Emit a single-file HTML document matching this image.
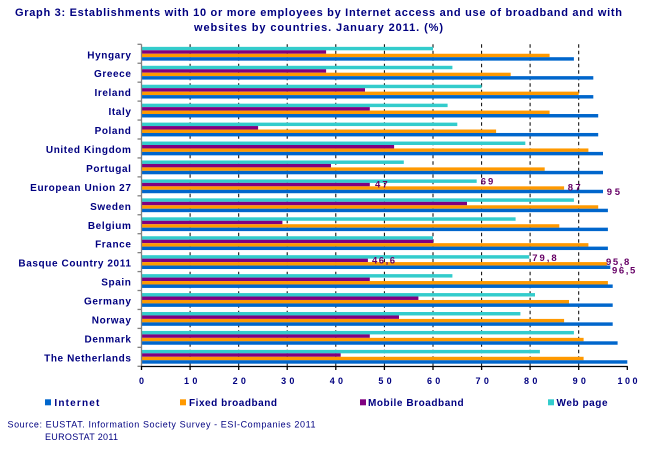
<!DOCTYPE html>
<html><head><meta charset="utf-8"><style>
html,body{margin:0;padding:0;background:#fff;}
svg{display:block;font-family:"Liberation Sans",Arial,sans-serif;}
</style></head><body>
<svg width="653" height="451" viewBox="0 0 653 451" xmlns="http://www.w3.org/2000/svg">
<rect width="653" height="451" fill="#fff"/>
<!-- title -->
<g fill="#000080" font-weight="bold" font-size="11">
<text x="15" y="16" textLength="607">Graph 3: Establishments with 10 or more employees by Internet access and use of broadband and with</text>
<text x="194" y="31" textLength="249">websites by countries. January 2011. (%)</text>
</g>
<!-- gridlines -->
<g stroke="#000" stroke-width="1" stroke-dasharray="3.5 3">
<line x1="190.1" y1="44.3" x2="190.1" y2="366" />
<line x1="238.7" y1="44.3" x2="238.7" y2="366" />
<line x1="287.2" y1="44.3" x2="287.2" y2="366" />
<line x1="335.8" y1="44.3" x2="335.8" y2="366" />
<line x1="384.4" y1="44.3" x2="384.4" y2="366" />
<line x1="433" y1="44.3" x2="433" y2="366" />
<line x1="481.6" y1="44.3" x2="481.6" y2="366" />
<line x1="530.1" y1="44.3" x2="530.1" y2="366" />
<line x1="578.7" y1="44.3" x2="578.7" y2="366" />
</g>
<!-- bars -->
<g>
<g transform="translate(141.5,44.3)"><rect y="2.55" height="3.45" width="291.5" fill="#33CCCC"/><rect y="6" height="3.45" width="184.6" fill="#800080"/><rect y="9.45" height="3.45" width="408.1" fill="#FF9900"/><rect y="12.9" height="3.45" width="432.4" fill="#0066CC"/></g>
<g transform="translate(141.5,63.24)"><rect y="2.55" height="3.45" width="310.9" fill="#33CCCC"/><rect y="6" height="3.45" width="184.6" fill="#800080"/><rect y="9.45" height="3.45" width="369.2" fill="#FF9900"/><rect y="12.9" height="3.45" width="451.8" fill="#0066CC"/></g>
<g transform="translate(141.5,82.18)"><rect y="2.55" height="3.45" width="340.1" fill="#33CCCC"/><rect y="6" height="3.45" width="223.5" fill="#800080"/><rect y="9.45" height="3.45" width="437.2" fill="#FF9900"/><rect y="12.9" height="3.45" width="451.8" fill="#0066CC"/></g>
<g transform="translate(141.5,101.12)"><rect y="2.55" height="3.45" width="306.1" fill="#33CCCC"/><rect y="6" height="3.45" width="228.3" fill="#800080"/><rect y="9.45" height="3.45" width="408.1" fill="#FF9900"/><rect y="12.9" height="3.45" width="456.7" fill="#0066CC"/></g>
<g transform="translate(141.5,120.06)"><rect y="2.55" height="3.45" width="315.8" fill="#33CCCC"/><rect y="6" height="3.45" width="116.6" fill="#800080"/><rect y="9.45" height="3.45" width="354.6" fill="#FF9900"/><rect y="12.9" height="3.45" width="456.7" fill="#0066CC"/></g>
<g transform="translate(141.5,139)"><rect y="2.55" height="3.45" width="383.8" fill="#33CCCC"/><rect y="6" height="3.45" width="252.6" fill="#800080"/><rect y="9.45" height="3.45" width="446.9" fill="#FF9900"/><rect y="12.9" height="3.45" width="461.5" fill="#0066CC"/></g>
<g transform="translate(141.5,157.94)"><rect y="2.55" height="3.45" width="262.3" fill="#33CCCC"/><rect y="6" height="3.45" width="189.5" fill="#800080"/><rect y="9.45" height="3.45" width="403.2" fill="#FF9900"/><rect y="12.9" height="3.45" width="461.5" fill="#0066CC"/></g>
<g transform="translate(141.5,176.88)"><rect y="2.55" height="3.45" width="335.2" fill="#33CCCC"/><rect y="6" height="3.45" width="228.3" fill="#800080"/><rect y="9.45" height="3.45" width="422.6" fill="#FF9900"/><rect y="12.9" height="3.45" width="461.5" fill="#0066CC"/></g>
<g transform="translate(141.5,195.82)"><rect y="2.55" height="3.45" width="432.4" fill="#33CCCC"/><rect y="6" height="3.45" width="325.5" fill="#800080"/><rect y="9.45" height="3.45" width="456.7" fill="#FF9900"/><rect y="12.9" height="3.45" width="466.4" fill="#0066CC"/></g>
<g transform="translate(141.5,214.76)"><rect y="2.55" height="3.45" width="374.1" fill="#33CCCC"/><rect y="6" height="3.45" width="140.9" fill="#800080"/><rect y="9.45" height="3.45" width="417.8" fill="#FF9900"/><rect y="12.9" height="3.45" width="466.4" fill="#0066CC"/></g>
<g transform="translate(141.5,233.7)"><rect y="2.55" height="3.45" width="291.5" fill="#33CCCC"/><rect y="6" height="3.45" width="291.5" fill="#800080"/><rect y="9.45" height="3.45" width="446.9" fill="#FF9900"/><rect y="12.9" height="3.45" width="466.4" fill="#0066CC"/></g>
<g transform="translate(141.5,252.64)"><rect y="2.55" height="3.45" width="387.7" fill="#33CCCC"/><rect y="6" height="3.45" width="226.4" fill="#800080"/><rect y="9.45" height="3.45" width="465.4" fill="#FF9900"/><rect y="12.9" height="3.45" width="468.8" fill="#0066CC"/></g>
<g transform="translate(141.5,271.58)"><rect y="2.55" height="3.45" width="310.9" fill="#33CCCC"/><rect y="6" height="3.45" width="228.3" fill="#800080"/><rect y="9.45" height="3.45" width="466.4" fill="#FF9900"/><rect y="12.9" height="3.45" width="471.2" fill="#0066CC"/></g>
<g transform="translate(141.5,290.52)"><rect y="2.55" height="3.45" width="393.5" fill="#33CCCC"/><rect y="6" height="3.45" width="276.9" fill="#800080"/><rect y="9.45" height="3.45" width="427.5" fill="#FF9900"/><rect y="12.9" height="3.45" width="471.2" fill="#0066CC"/></g>
<g transform="translate(141.5,309.46)"><rect y="2.55" height="3.45" width="378.9" fill="#33CCCC"/><rect y="6" height="3.45" width="257.5" fill="#800080"/><rect y="9.45" height="3.45" width="422.6" fill="#FF9900"/><rect y="12.9" height="3.45" width="471.2" fill="#0066CC"/></g>
<g transform="translate(141.5,328.4)"><rect y="2.55" height="3.45" width="432.4" fill="#33CCCC"/><rect y="6" height="3.45" width="228.3" fill="#800080"/><rect y="9.45" height="3.45" width="442.1" fill="#FF9900"/><rect y="12.9" height="3.45" width="476.1" fill="#0066CC"/></g>
<g transform="translate(141.5,347.34)"><rect y="2.55" height="3.45" width="398.4" fill="#33CCCC"/><rect y="6" height="3.45" width="199.2" fill="#800080"/><rect y="9.45" height="3.45" width="442.1" fill="#FF9900"/><rect y="12.9" height="3.45" width="485.8" fill="#0066CC"/></g>
</g>
<!-- left axis -->
<g stroke="#808080" stroke-width="1.3">
<line x1="141.5" y1="44.3" x2="141.5" y2="366.3"/>
<line x1="137.5" y1="44.3" x2="141.5" y2="44.3"/>
<line x1="137.5" y1="63.24" x2="141.5" y2="63.24"/>
<line x1="137.5" y1="82.18" x2="141.5" y2="82.18"/>
<line x1="137.5" y1="101.12" x2="141.5" y2="101.12"/>
<line x1="137.5" y1="120.06" x2="141.5" y2="120.06"/>
<line x1="137.5" y1="139" x2="141.5" y2="139"/>
<line x1="137.5" y1="157.94" x2="141.5" y2="157.94"/>
<line x1="137.5" y1="176.88" x2="141.5" y2="176.88"/>
<line x1="137.5" y1="195.82" x2="141.5" y2="195.82"/>
<line x1="137.5" y1="214.76" x2="141.5" y2="214.76"/>
<line x1="137.5" y1="233.7" x2="141.5" y2="233.7"/>
<line x1="137.5" y1="252.64" x2="141.5" y2="252.64"/>
<line x1="137.5" y1="271.58" x2="141.5" y2="271.58"/>
<line x1="137.5" y1="290.52" x2="141.5" y2="290.52"/>
<line x1="137.5" y1="309.46" x2="141.5" y2="309.46"/>
<line x1="137.5" y1="328.4" x2="141.5" y2="328.4"/>
<line x1="137.5" y1="347.34" x2="141.5" y2="347.34"/>
<line x1="137.5" y1="366.3" x2="141.5" y2="366.3"/>
</g>
<!-- bottom axis -->
<g stroke="#000" stroke-width="1.3">
<line x1="141" y1="366.5" x2="627.8" y2="366.5"/>
<line x1="141.5" y1="366.5" x2="141.5" y2="370"/>
<line x1="190.1" y1="366.5" x2="190.1" y2="370"/>
<line x1="238.7" y1="366.5" x2="238.7" y2="370"/>
<line x1="287.2" y1="366.5" x2="287.2" y2="370"/>
<line x1="335.8" y1="366.5" x2="335.8" y2="370"/>
<line x1="384.4" y1="366.5" x2="384.4" y2="370"/>
<line x1="433" y1="366.5" x2="433" y2="370"/>
<line x1="481.6" y1="366.5" x2="481.6" y2="370"/>
<line x1="530.1" y1="366.5" x2="530.1" y2="370"/>
<line x1="578.7" y1="366.5" x2="578.7" y2="370"/>
<line x1="627.3" y1="366.5" x2="627.3" y2="370"/>
</g>
<!-- x tick labels -->
<g fill="#000080" font-weight="bold" font-size="9" text-anchor="middle">
<text x="141.5" y="384">0</text>
<text x="190.7" y="384" textLength="13.3">10</text>
<text x="239.3" y="384" textLength="13.3">20</text>
<text x="287.8" y="384" textLength="13.3">30</text>
<text x="336.4" y="384" textLength="13.3">40</text>
<text x="385" y="384" textLength="13.3">50</text>
<text x="433.6" y="384" textLength="13.3">60</text>
<text x="482.2" y="384" textLength="13.3">70</text>
<text x="530.7" y="384" textLength="13.3">80</text>
<text x="579.3" y="384" textLength="13.3">90</text>
<text x="627.5" y="384" textLength="20">100</text>
</g>
<!-- category labels -->
<g fill="#000080" font-weight="bold" font-size="10" text-anchor="end" letter-spacing="0.6">
<text x="131.5" y="58.3">Hyngary</text>
<text x="131.5" y="77.24">Greece</text>
<text x="131.5" y="96.18">Ireland</text>
<text x="131.5" y="115.12">Italy</text>
<text x="131.5" y="134.06">Poland</text>
<text x="131.5" y="153">United Kingdom</text>
<text x="131.5" y="171.94">Portugal</text>
<text x="131.5" y="190.88">European Union 27</text>
<text x="131.5" y="209.82">Sweden</text>
<text x="131.5" y="228.76">Belgium</text>
<text x="131.5" y="247.7">France</text>
<text x="131.5" y="266.64">Basque Country 2011</text>
<text x="131.5" y="285.58">Spain</text>
<text x="131.5" y="304.52">Germany</text>
<text x="131.5" y="323.46">Norway</text>
<text x="131.5" y="342.4">Denmark</text>
<text x="131.5" y="361.34">The Netherlands</text>
</g>
<!-- data labels -->
<g fill="#660066" font-weight="bold" font-size="9.5">
<text x="480.7" y="184.7" textLength="12.6">69</text>
<text x="375" y="187.3" textLength="12.7">47</text>
<text x="567.7" y="190.7" textLength="13">87</text>
<text x="606.7" y="195" textLength="13.3">95</text>
<text x="532.3" y="261" textLength="24.4">79,8</text>
<text x="372" y="263.3" textLength="23">46,6</text>
<text x="606" y="265" textLength="23.3">95,8</text>
<text x="612" y="273.7" textLength="23.3">96,5</text>
</g>
<!-- legend -->
<rect x="45" y="399.3" width="6" height="6" fill="#0066CC"/>
<rect x="180" y="399.3" width="6" height="6" fill="#FF9900"/>
<rect x="360" y="399.3" width="6" height="6" fill="#800080"/>
<rect x="548" y="399.3" width="6" height="6" fill="#33CCCC"/>
<g fill="#000080" font-weight="bold" font-size="10">
<text x="54.4" y="406" textLength="45">Internet</text>
<text x="189" y="406" textLength="88">Fixed broadband</text>
<text x="368" y="406" textLength="95.6">Mobile Broadband</text>
<text x="556.5" y="406" textLength="51">Web page</text>
</g>
<!-- source -->
<g fill="#000080" font-size="9">
<text x="7.5" y="427.5" textLength="308">Source: EUSTAT. Information Society Survey - ESI-Companies  2011</text>
<text x="45" y="440" textLength="73">EUROSTAT 2011</text>
</g>
</svg>
</body></html>
